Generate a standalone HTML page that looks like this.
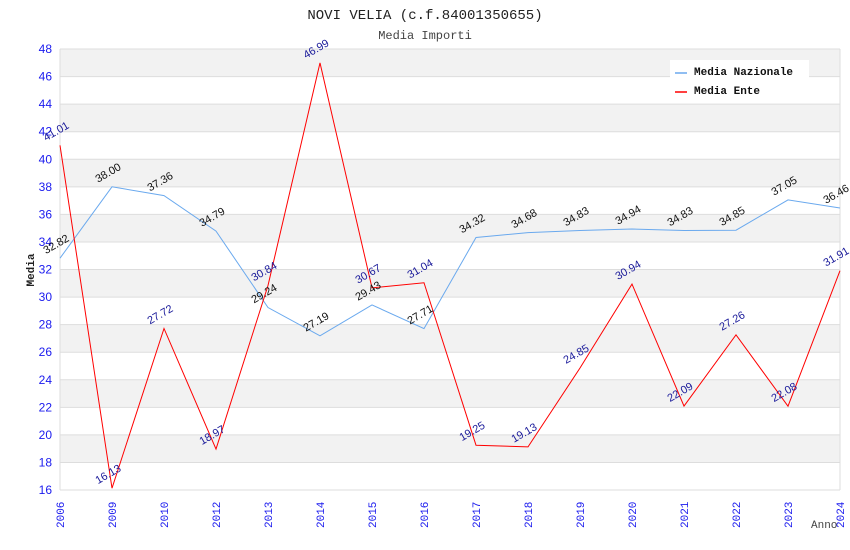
<!DOCTYPE html>
<html><head><meta charset="utf-8"><style>
body{margin:0;background:#fff;width:850px;height:550px;overflow:hidden}
svg{display:block}
</style></head><body>
<svg id="chart" width="850" height="550" xmlns="http://www.w3.org/2000/svg">
<text x="425" y="19" text-anchor="middle" font-family="Liberation Mono, monospace" font-size="14" fill="#222">NOVI VELIA (c.f.84001350655)</text>
<text x="425" y="39" text-anchor="middle" font-family="Liberation Mono, monospace" font-size="12" fill="#444">Media Importi</text>
<g id="bands"></g><g id="grid"></g><g id="yticks"></g><g id="xticks"></g>
<g id="series"></g><g id="labels"></g>
<text x="34" y="270" transform="rotate(-90 34 270)" text-anchor="middle" font-family="Liberation Mono, monospace" font-weight="bold" font-size="11" fill="#222">Media</text>
<text x="811" y="528" font-family="Liberation Mono, monospace" font-size="11" fill="#444">Anno</text>
<g>
<rect x="670" y="60" width="139" height="40" fill="#fff"/>
<g><line x1="675" y1="73" x2="687" y2="73" stroke="#6aa9ee" stroke-width="1.5"/><text x="694" y="75" font-family="Liberation Mono, monospace" font-weight="bold" font-size="11" fill="#111">Media Nazionale</text></g>
<g><line x1="675" y1="92" x2="687" y2="92" stroke="#ff0000" stroke-width="1.5"/><text x="694" y="94" font-family="Liberation Mono, monospace" font-weight="bold" font-size="11" fill="#111">Media Ente</text></g>
</g>
</svg>
<script>
const years=["2006","2009","2010","2012","2013","2014","2015","2016","2017","2018","2019","2020","2021","2022","2023","2024"];
const nazionale=[32.82,38.00,37.36,34.79,29.24,27.19,29.43,27.71,34.32,34.68,34.83,34.94,34.83,34.85,37.05,36.46];
const ente=[41.01,16.13,27.72,18.97,30.84,46.99,30.67,31.04,19.25,19.13,24.85,30.94,22.09,27.26,22.08,31.91];
const yTicks=[16,18,20,22,24,26,28,30,32,34,36,38,40,42,44,46,48];
const NS="http://www.w3.org/2000/svg";
const L=60,R=840,T=49,B=490,yMin=16,yMax=48;
const xs=i=>L+i*(R-L)/(years.length-1);
const ys=v=>B-(v-yMin)*(B-T)/(yMax-yMin);
function mk(tag,attrs,parent){const e=document.createElementNS(NS,tag);for(const k in attrs)e.setAttribute(k,attrs[k]);document.getElementById(parent).appendChild(e);return e;}
for(let i=0;i<yTicks.length-1;i++){
 if((yTicks.length-2-i)%2===0){const r=mk('rect',{x:L,y:ys(yTicks[i+1]),width:R-L,height:ys(yTicks[i])-ys(yTicks[i+1]),fill:'#f2f2f2'},'bands');
 
 }
}
yTicks.forEach(v=>{
 const l=mk('line',{x1:L,x2:R,y1:ys(v),y2:ys(v),stroke:'#dddddd'},'grid');
 
 
 const t=mk('text',{x:L-8,y:ys(v)+4,'text-anchor':'end','font-family':'Liberation Sans, sans-serif','font-size':'12',fill:'#1a1aee'},'yticks');
 t.textContent=v;
 
 
});
mk('line',{x1:L,x2:L,y1:T,y2:B,stroke:'#dddddd'},'grid');
mk('line',{x1:R,x2:R,y1:T,y2:B,stroke:'#dddddd'},'grid');
years.forEach((y,i)=>{
 const x=xs(i)+4,yy=528;
 const t=mk('text',{x:x,y:yy,transform:`rotate(-90 ${x} ${yy})`,'font-family':'Liberation Mono, monospace','font-size':'11',fill:'#1a1aee'},'xticks');
 t.textContent=y;
 
 
});
function series(arr,color,name,lblColor){
 const p=mk('polyline',{points:arr.map((v,i)=>xs(i)+','+ys(v)).join(' '),fill:'none',stroke:color,'stroke-width':'1'},'series');
 
 
 arr.forEach((v,i)=>{
  const x=xs(i)-14,y=ys(v)-4;
  const t=mk('text',{x:x,y:y,transform:`rotate(-30 ${x} ${y})`,'font-family':'Liberation Sans, sans-serif','font-size':'11',fill:lblColor},'labels');
  t.textContent=v.toFixed(2);
  
  
 });
}
series(nazionale,'#6aa9ee','line-media-nazionale','#111');
series(ente,'#ff0000','line-media-ente','#1a1a9a');
</script>
</body></html>
